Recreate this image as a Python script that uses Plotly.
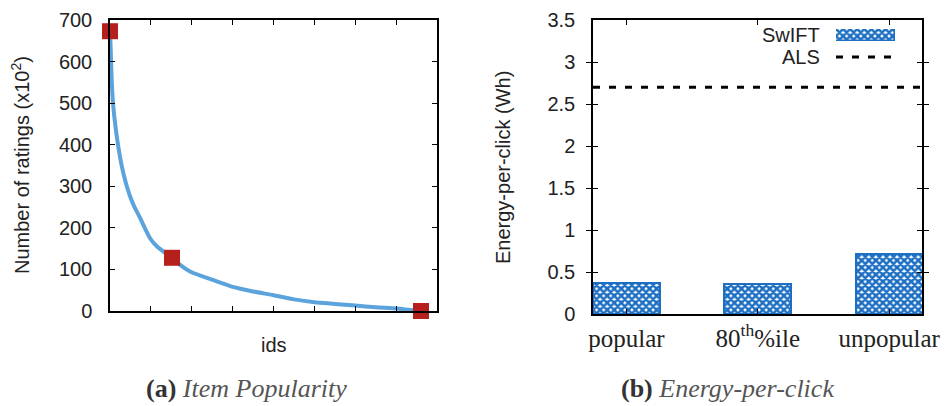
import plotly.graph_objects as go

# ---------------- data ----------------
# (a) item popularity: item id rank vs number of ratings (x10^2)
item_ids = [0, 10, 20, 40, 70, 120, 180, 250, 330, 420, 520, 600, 730, 850, 980, 1150,
            1350, 1517, 1700, 1957, 2300, 2618, 3000, 3500, 4000, 4500, 5000, 5500,
            6000, 6500, 7000, 7300, 7609]
num_ratings = [673, 650, 620, 560, 505, 455, 410, 368, 330, 297, 268, 250, 225, 200, 175, 155,
               140, 128, 112, 95, 82, 71, 58, 47, 38, 28, 21, 17,
               13, 9, 6, 3, 0]
highlight_ids = [0, 1517, 7609]
highlight_ratings = [673, 128, 0]
id_ticks = [0, 1000, 2000, 3000, 4000, 5000, 6000, 7000, 8000]

# (b) energy per click
categories = ["popular", "80th", "unpopular"]
category_labels = ["popular", "80<sup>th</sup>%ile", "unpopular"]
swift_energy = [0.37, 0.36, 0.71]
als_energy = 2.7

# ---------------- styles ----------------
W, H = 945, 406
SANS = "Liberation Sans, Arial, sans-serif"
SERIF = "Liberation Serif, Times New Roman, serif"
TXT = "#222222"
BLUE = "#1c6fc2"
CURVE = "#5ba3dc"
RED = "#b5201c"


def px(x):
    return x / W


def py(y):
    return (H - y) / H


pattern = dict(shape="x", bgcolor="white", fgcolor=BLUE, size=5, solidity=0.75,
               fillmode="replace")

fig = go.Figure()

# (a) curve
fig.add_trace(go.Scatter(x=item_ids, y=num_ratings, mode="lines",
                         line=dict(color=CURVE, width=4, shape="spline", smoothing=0.6),
                         xaxis="x", yaxis="y", showlegend=False, hoverinfo="skip"))
fig.add_trace(go.Scatter(x=highlight_ids, y=highlight_ratings, mode="markers",
                         marker=dict(symbol="square", size=16, color=RED),
                         xaxis="x", yaxis="y", showlegend=False, cliponaxis=False))

# (b) bars
fig.add_trace(go.Bar(x=categories, y=swift_energy, width=0.51, name="SwIFT",
                     marker=dict(color=BLUE, line=dict(color=BLUE, width=2),
                                 pattern=pattern),
                     xaxis="x2", yaxis="y2", showlegend=False))
# ALS reference line across the whole plot width
fig.add_trace(go.Scatter(x=[0, 1], y=[als_energy, als_energy], mode="lines", name="ALS",
                         line=dict(color="black", width=3, dash="7px,9px"),
                         xaxis="x3", yaxis="y2", showlegend=False))

# legend keys (drawn on small hidden axes so the key sits right of its label)
fig.add_trace(go.Bar(x=[0], y=[1], width=1, marker=dict(color=BLUE,
                     line=dict(color=BLUE, width=1.5), pattern=pattern),
                     xaxis="x4", yaxis="y3", showlegend=False, cliponaxis=False,
                     hoverinfo="skip"))
fig.add_trace(go.Scatter(x=[-0.5, 0.5], y=[0.5, 0.5], mode="lines",
                         line=dict(color="black", width=3, dash="7px,9px"),
                         xaxis="x4", yaxis="y4", showlegend=False, hoverinfo="skip"))

frame = dict(showline=True, linecolor="black", linewidth=1.5, mirror="allticks",
             ticks="inside", ticklen=5, tickcolor="black", tickwidth=1.2,
             showgrid=False, zeroline=False, automargin=False)
hidden = dict(visible=False, showgrid=False, zeroline=False, fixedrange=True,
              showticklabels=False, ticks="", showline=False, automargin=False)

fig.update_layout(
    width=W, height=H, margin=dict(l=0, r=0, t=0, b=0, pad=0, autoexpand=False),
    paper_bgcolor="white", plot_bgcolor="white", showlegend=False,
    bargap=0,
    xaxis=dict(domain=[px(110), px(437)], anchor="y", range=[0, 8000],
               tickvals=id_ticks, showticklabels=False, **frame),
    yaxis=dict(domain=[py(311), py(20)], anchor="x", range=[0, 700], dtick=100,
               tickfont=dict(family=SANS, size=20, color=TXT), ticklabelstandoff=12,
               **frame),
    xaxis2=dict(domain=[px(593), px(922)], anchor="y2", type="category",
                range=[-0.255, 2.25], tickvals=categories, ticktext=category_labels,
                tickfont=dict(family=SERIF, size=25, color=TXT), ticklabelstandoff=1,
                **frame),
    yaxis2=dict(domain=[py(314), py(20)], anchor="x2", range=[0, 3.5], dtick=0.5,
                tickfont=dict(family=SANS, size=20, color=TXT), ticklabelstandoff=12,
                **frame),
    xaxis3=dict(overlaying="x2", range=[0, 1], **hidden),
    xaxis4=dict(domain=[px(836), px(895)], anchor="y3", range=[-0.5, 0.5], **hidden),
    yaxis3=dict(domain=[py(41), py(29)], anchor="x4", range=[0, 1], **hidden),
    yaxis4=dict(domain=[py(62), py(52)], anchor="x4", range=[0, 1], **hidden),
)

ann = []
ann.append(dict(text="Number of ratings (x10<sup>2</sup>)", x=px(20), y=py(165),
                textangle=-90, font=dict(family=SANS, size=20, color=TXT)))
ann.append(dict(text="ids", x=px(274), y=py(345), font=dict(family=SANS, size=20, color=TXT)))
ann.append(dict(text="Energy-per-click (Wh)", x=px(503), y=py(167), textangle=-90,
                font=dict(family=SANS, size=20, color=TXT)))
ann.append(dict(text="SwIFT", x=px(822), y=py(35), xanchor="right",
                font=dict(family=SANS, size=20, color=TXT)))
ann.append(dict(text="ALS", x=px(822), y=py(57), xanchor="right",
                font=dict(family=SANS, size=20, color=TXT)))
ann.append(dict(text="<b>(a)</b> <i><span style='color:#555555'>Item Popularity</span></i>",
                x=px(246), y=py(388), font=dict(family=SERIF, size=26, color="#333333")))
ann.append(dict(text="<b>(b)</b> <i><span style='color:#555555'>Energy-per-click</span></i>",
                x=px(727), y=py(388), font=dict(family=SERIF, size=26, color="#333333")))
for a in ann:
    a.update(xref="paper", yref="paper", showarrow=False,
             xanchor=a.get("xanchor", "center"), yanchor="middle")
fig.update_layout(annotations=ann)

fig.write_html("out.html")
